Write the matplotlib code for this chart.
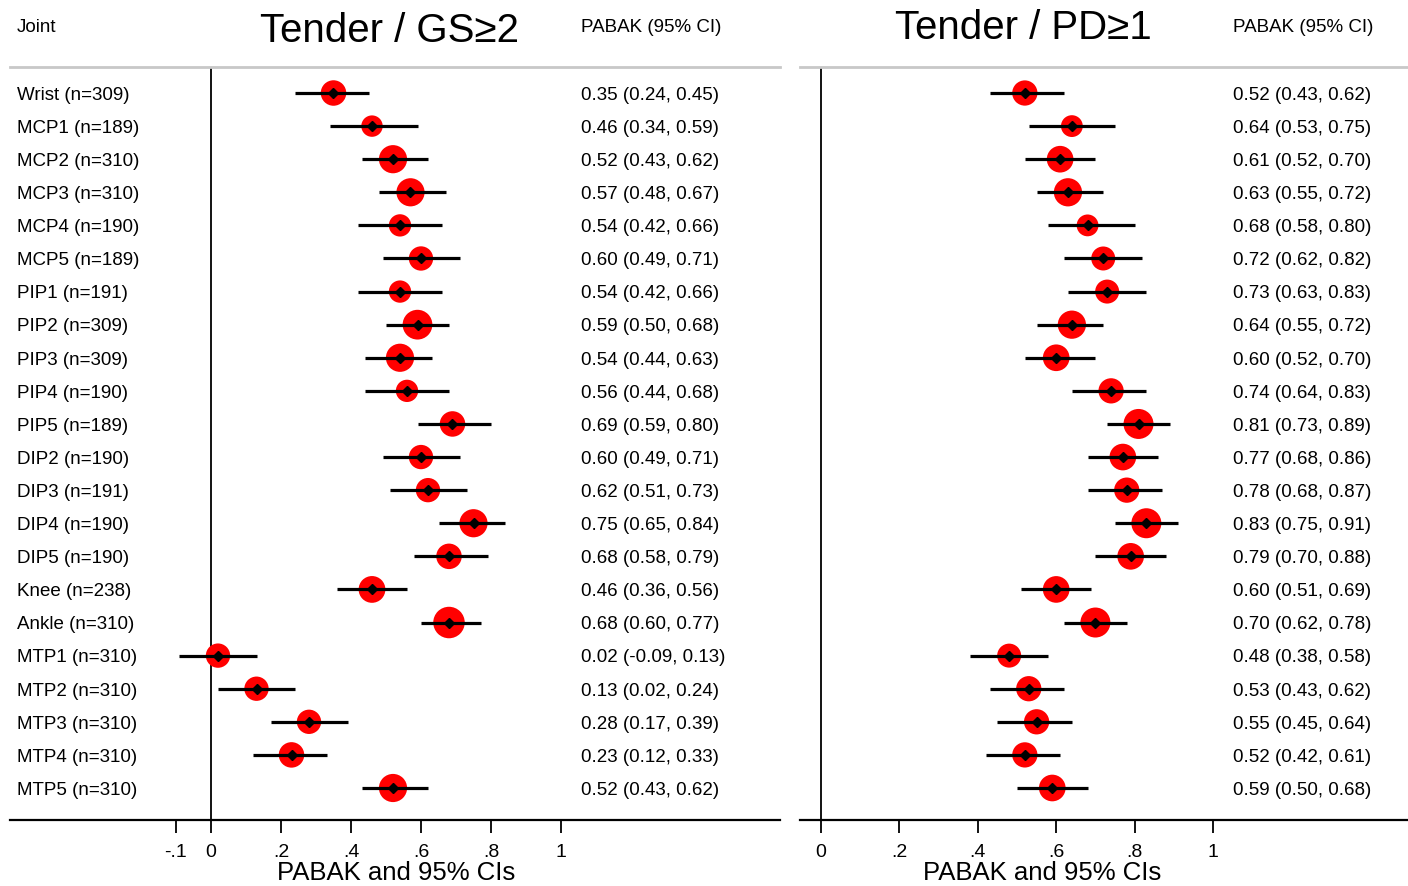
import numpy as np
from matplotlib import pyplot as plt
from matplotlib.transforms import blended_transform_factory

plt.rcParams['font.family'] = ['Liberation Sans', 'DejaVu Sans']

# data
joints = ["Wrist", "MCP1", "MCP2", "MCP3", "MCP4", "MCP5", "PIP1", "PIP2", "PIP3",
          "PIP4", "PIP5", "DIP2", "DIP3", "DIP4", "DIP5", "Knee", "Ankle",
          "MTP1", "MTP2", "MTP3", "MTP4", "MTP5"]
n_obs = [309, 189, 310, 310, 190, 189, 191, 309, 309, 190, 189, 190, 191, 190, 190,
         238, 310, 310, 310, 310, 310, 310]

gs_est = [0.35, 0.46, 0.52, 0.57, 0.54, 0.60, 0.54, 0.59, 0.54, 0.56, 0.69, 0.60,
          0.62, 0.75, 0.68, 0.46, 0.68, 0.02, 0.13, 0.28, 0.23, 0.52]
gs_lo = [0.24, 0.34, 0.43, 0.48, 0.42, 0.49, 0.42, 0.50, 0.44, 0.44, 0.59, 0.49,
         0.51, 0.65, 0.58, 0.36, 0.60, -0.09, 0.02, 0.17, 0.12, 0.43]
gs_hi = [0.45, 0.59, 0.62, 0.67, 0.66, 0.71, 0.66, 0.68, 0.63, 0.68, 0.80, 0.71,
         0.73, 0.84, 0.79, 0.56, 0.77, 0.13, 0.24, 0.39, 0.33, 0.62]

pd_est = [0.52, 0.64, 0.61, 0.63, 0.68, 0.72, 0.73, 0.64, 0.60, 0.74, 0.81, 0.77,
          0.78, 0.83, 0.79, 0.60, 0.70, 0.48, 0.53, 0.55, 0.52, 0.59]
pd_lo = [0.43, 0.53, 0.52, 0.55, 0.58, 0.62, 0.63, 0.55, 0.52, 0.64, 0.73, 0.68,
         0.68, 0.75, 0.70, 0.51, 0.62, 0.38, 0.43, 0.45, 0.42, 0.50]
pd_hi = [0.62, 0.75, 0.70, 0.72, 0.80, 0.82, 0.83, 0.72, 0.70, 0.83, 0.89, 0.86,
         0.87, 0.91, 0.88, 0.69, 0.78, 0.58, 0.62, 0.64, 0.61, 0.68]

W, H = 1408, 886
fig = plt.figure(figsize=(W / 100, H / 100), dpi=100)


def px_axes(x0, x1, y0, y1):
    return fig.add_axes([x0 / W, 1 - y1 / H, (x1 - x0) / W, (y1 - y0) / H])


def forest(ax, est, lo, hi, xlim, ticks, ticklabels, max_diam, label_x, value_x, labels=True):
    est, lo, hi = np.array(est), np.array(lo), np.array(hi)
    rows = np.arange(len(est))
    # marker area proportional to inverse variance
    w = 1 / (hi - lo) ** 2
    diam = max_diam * np.sqrt(w / w.max())
    ax.scatter(est, rows, s=(diam * 0.72) ** 2, color="#ff0000", zorder=2, linewidths=0)
    ax.hlines(rows, lo, hi, color="black", lw=2.3, zorder=3)
    ax.plot(est, rows, "D", color="black", ms=5, zorder=4)
    ax.axvline(0, color="black", lw=1.3, zorder=1)

    ax.set_xlim(*xlim)
    ax.set_ylim(21.967, -0.786)
    ax.set_yticks([])
    ax.set_xticks(ticks)
    ax.set_xticklabels(ticklabels, fontsize=14)
    ax.tick_params(axis="x", length=9, width=1.3, pad=8)
    for s in ("left", "right"):
        ax.spines[s].set_visible(False)
    ax.spines["top"].set_color("#c8c8c8")
    ax.spines["top"].set_linewidth(2)
    ax.spines["bottom"].set_linewidth(1.6)

    tr = blended_transform_factory(ax.transAxes, ax.transData)
    for i in rows:
        if labels:
            ax.text(label_x, i + 0.07, f"{joints[i]} (n={n_obs[i]})", transform=tr,
                    ha="left", va="center", fontsize=13.5)
        ax.text(value_x, i + 0.07, f"{est[i]:.2f} ({lo[i]:.2f}, {hi[i]:.2f})", transform=tr,
                ha="left", va="center", fontsize=13.5)


ax1 = px_axes(10, 780, 67, 820)
forest(ax1, gs_est, gs_lo, gs_hi,
       ((10 - 211) / 350, (780 - 211) / 350),
       [-0.1, 0, 0.2, 0.4, 0.6, 0.8, 1], ["-.1", "0", ".2", ".4", ".6", ".8", "1"],
       31.5, (17 - 10) / 770, (581 - 10) / 770)

ax2 = px_axes(800, 1408, 67, 820)
forest(ax2, pd_est, pd_lo, pd_hi,
       ((800 - 821) / 392, (1408 - 821) / 392),
       [0, 0.2, 0.4, 0.6, 0.8, 1], ["0", ".2", ".4", ".6", ".8", "1"],
       30, 0, (1233 - 800) / 608, labels=False)

# headers
fig.text(17 / W, 1 - 27 / H, "Joint", fontsize=13.5, va="center", ha="left")
fig.text(390 / W, 1 - 31 / H, "Tender / GS\u22652", fontsize=29, va="center", ha="center")
fig.text(581 / W, 1 - 27 / H, "PABAK (95% CI)", fontsize=13.5, va="center", ha="left")
fig.text(1023 / W, 1 - 28 / H, "Tender / PD\u22651", fontsize=29, va="center", ha="center")
fig.text(1233 / W, 1 - 27 / H, "PABAK (95% CI)", fontsize=13.5, va="center", ha="left")

# x axis titles
fig.text(396 / W, 1 - 873 / H, "PABAK and 95% CIs", fontsize=18.5, va="center", ha="center")
fig.text(1042 / W, 1 - 873 / H, "PABAK and 95% CIs", fontsize=18.5, va="center", ha="center")

fig.savefig("out.png", dpi=100)
